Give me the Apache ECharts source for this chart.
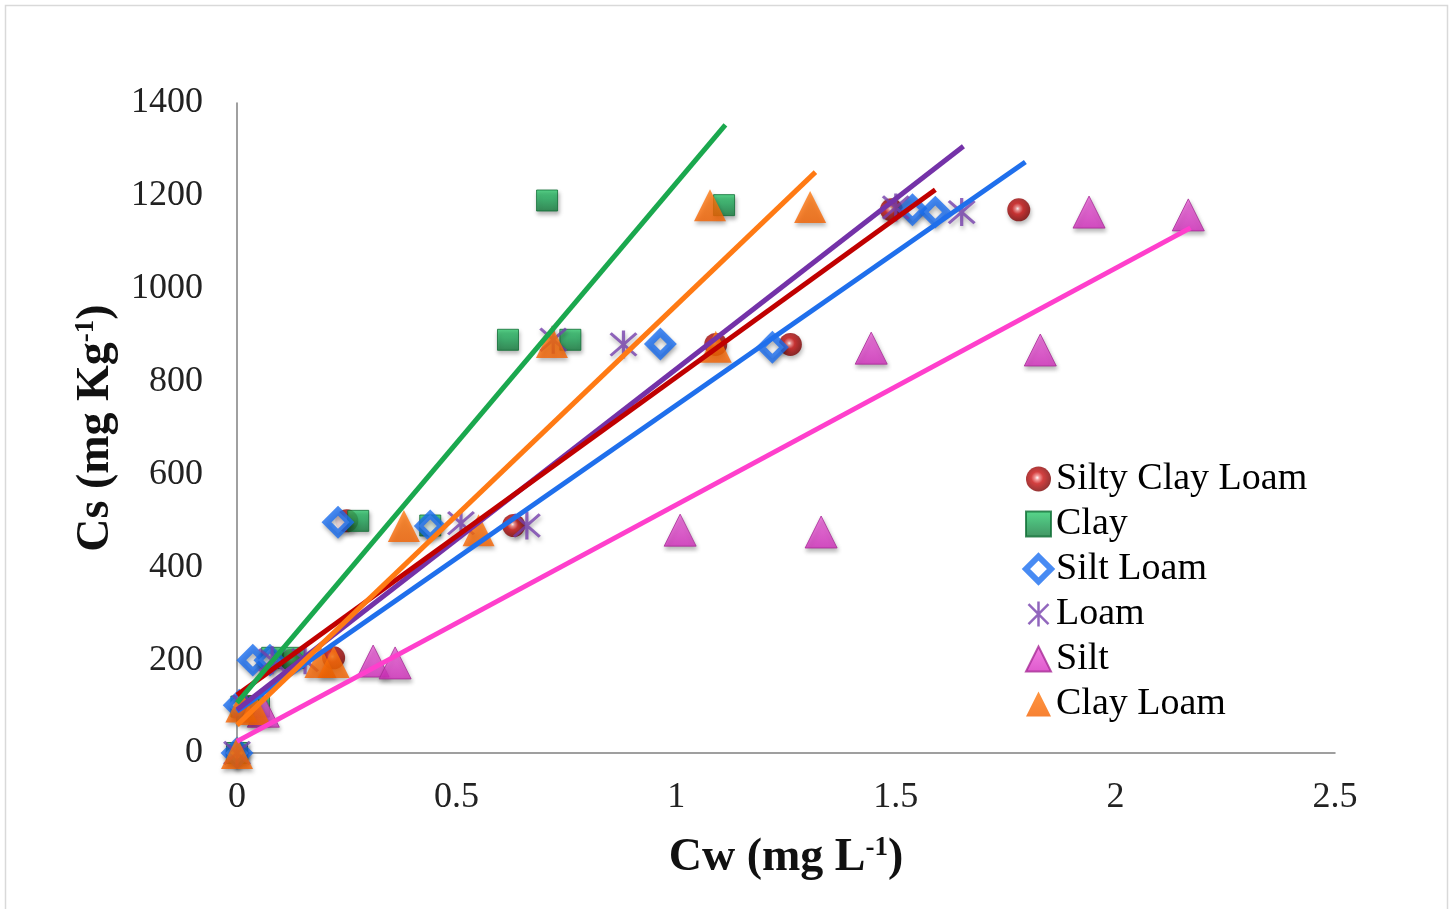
<!DOCTYPE html>
<html>
<head>
<meta charset="utf-8">
<script src="https://cdn.jsdelivr.net/npm/echarts@6/dist/echarts.min.js"></script>
<style>
html,body{margin:0;padding:0;background:#fff;}
#c{width:1455px;height:909px;}
</style>
</head>
<body>
<div id="c"></div>
<script>
// ---- data ----
var seriesNames = ['Silty Clay Loam', 'Clay', 'Silt Loam', 'Loam', 'Silt', 'Clay Loam'];
var siltyClayLoam = [[0,0],[0.03,100],[0.125,200],[0.22,205],[0.25,500],[0.63,490],[1.09,880],[1.26,880],[1.49,1170],[1.78,1170]];
var clay = [[0,0],[0.01,100],[0.05,100],[0.08,205],[0.13,205],[0.276,500],[0.44,490],[0.617,890],[0.759,890],[0.706,1190],[1.109,1180]];
var siltLoam = [[0,0],[0.005,103],[0.036,200],[0.075,200],[0.23,497],[0.44,489],[0.964,881],[1.219,874],[1.538,1170],[1.59,1165]];
var loam = [[0,0],[0.02,100],[0.08,200],[0.155,200],[0.51,495],[0.66,490],[0.72,890],[0.88,880],[1.50,1175],[1.65,1165]];
var silt = [[0.06,90],[0.31,198],[0.36,194],[1.009,480],[1.33,476],[1.444,872],[1.829,868],[1.94,1165],[2.166,1159]];
var clayLoam = [[0,0],[0.01,100],[0.04,95],[0.19,196],[0.22,196],[0.38,489],[0.55,480],[0.717,885],[1.09,875],[1.077,1180],[1.305,1176]];

// trend lines (endpoints)
var trendRed = [[0,125],[1.59,1213]];
var trendGreen = [[0,108],[1.112,1353]];
var trendOrange = [[0,60],[1.317,1251]];
var trendPurple = [[0,93],[1.654,1307]];
var trendBlue = [[0,90],[1.795,1273]];
var trendPink = [[0,25],[2.171,1131]];

var xTicks = {min:0, max:2.5, interval:0.5};
var yTicks = {min:0, max:1400, interval:200};

// ---- styling ----
var serif = "'Liberation Serif','Times New Roman',serif";
var shadow = {shadowBlur:4, shadowColor:'rgba(0,0,0,0.35)', shadowOffsetX:1, shadowOffsetY:3};
var asterisk = 'path://M9,0L11,0L11,20L9,20Z M2.7,1.3L18.7,17.3L17.3,18.7L1.3,2.7Z M17.3,1.3L18.7,2.7L2.7,18.7L1.3,17.3Z';

function sc(name, data, symbol, size, itemStyle){
  return {name:name, type:'scatter', data:data, symbol:symbol, symbolSize:size,
    itemStyle:Object.assign({}, shadow, itemStyle), z:2};
}
function ln(data, color){
  return {name:'trend', type:'line', data:data, symbol:'none', silent:true,
    lineStyle:{color:color, width:5}, z:5, legendHoverLink:false};
}

var redGrad = {type:'radial', x:0.45, y:0.45, r:0.6, colorStops:[
  {offset:0, color:'#ffffff'},{offset:0.15, color:'#f08080'},{offset:0.4, color:'#c81010'},{offset:1, color:'#700000'}]};
var greenGrad = {type:'linear', x:0, y:0, x2:0, y2:1, colorStops:[
  {offset:0, color:'#2fcf6f'},{offset:0.5, color:'#1ea457'},{offset:1, color:'#137a3c'}]};
var pinkGrad = {type:'linear', x:0, y:0, x2:0, y2:1, colorStops:[
  {offset:0, color:'#f062dc'},{offset:1, color:'#d630c0'}]};
var orangeGrad = {type:'linear', x:0, y:0, x2:0, y2:1, colorStops:[
  {offset:0, color:'#ff7a10'},{offset:1, color:'#f56200'}]};

var chart = echarts.init(document.getElementById('c'));
chart.setOption({
  backgroundColor:'#ffffff',
  animation:false,
  graphic:[{type:'rect', shape:{x:5.5, y:5.5, width:1442, height:910},
    style:{fill:'none', stroke:'#d9d9d9', lineWidth:1.5}, silent:true}],
  grid:{left:237, right:120, top:103, bottom:156},
  legend:{
    data:[
      {name:seriesNames[0]},
      {name:seriesNames[1]},
      {name:seriesNames[2], itemStyle:{borderWidth:6}},
      {name:seriesNames[3]},
      {name:seriesNames[4]},
      {name:seriesNames[5]}
    ],
    orient:'vertical', left:1018, top:455,
    itemWidth:25, itemHeight:25, itemGap:7,
    textStyle:{fontFamily:serif, fontSize:38, color:'#000'}
  },
  xAxis:{
    type:'value', min:xTicks.min, max:xTicks.max, interval:xTicks.interval,
    axisLine:{lineStyle:{color:'#808080', width:1.5}},
    axisTick:{show:false}, splitLine:{show:false},
    axisLabel:{fontFamily:serif, fontSize:36, color:'#222', margin:27,
      formatter:function(v){return String(v);}},
    name:'{b|Cw (mg L}{s|-1}{b|)}', nameLocation:'middle', nameGap:82,
    nameTextStyle:{rich:{
      b:{fontFamily:serif, fontSize:46, fontWeight:'bold', color:'#111'},
      s:{fontFamily:serif, fontSize:27, fontWeight:'bold', color:'#111', verticalAlign:'top'}
    }}
  },
  yAxis:{
    type:'value', min:yTicks.min, max:yTicks.max, interval:yTicks.interval,
    axisLine:{show:true, lineStyle:{color:'#808080', width:1.5}},
    axisTick:{show:false}, splitLine:{show:false},
    axisLabel:{fontFamily:serif, fontSize:36, color:'#222', margin:34,
      formatter:function(v){return String(v);}},
    name:'{b|Cs (mg Kg}{s|-1}{b|)}', nameLocation:'middle', nameGap:118,
    nameTextStyle:{rich:{
      b:{fontFamily:serif, fontSize:46, fontWeight:'bold', color:'#111'},
      s:{fontFamily:serif, fontSize:27, fontWeight:'bold', color:'#111', verticalAlign:'top'}
    }}
  },
  series:[
    sc(seriesNames[0], siltyClayLoam, 'circle', 23, {color:redGrad}),
    sc(seriesNames[1], clay, 'rect', 21, {color:greenGrad, borderColor:'#0f6e35', borderWidth:1}),
    sc(seriesNames[2], siltLoam, 'diamond', 23, {color:'#ffffff', borderColor:'#1a6ef0', borderWidth:7}),
    sc(seriesNames[3], loam, asterisk, 28, {color:'#7540ad'}),
    sc(seriesNames[4], silt, 'triangle', 32, {color:pinkGrad, borderColor:'#a82a96', borderWidth:1}),
    sc(seriesNames[5], clayLoam, 'triangle', 32, {color:orangeGrad}),
    ln(trendBlue, '#1f6fec'),
    ln(trendPurple, '#7432a8'),
    ln(trendRed, '#c00000'),
    ln(trendOrange, '#ff7a14'),
    ln(trendGreen, '#1aa84e'),
    ln(trendPink, '#ff3fcc')
  ]
});
</script>
</body>
</html>
